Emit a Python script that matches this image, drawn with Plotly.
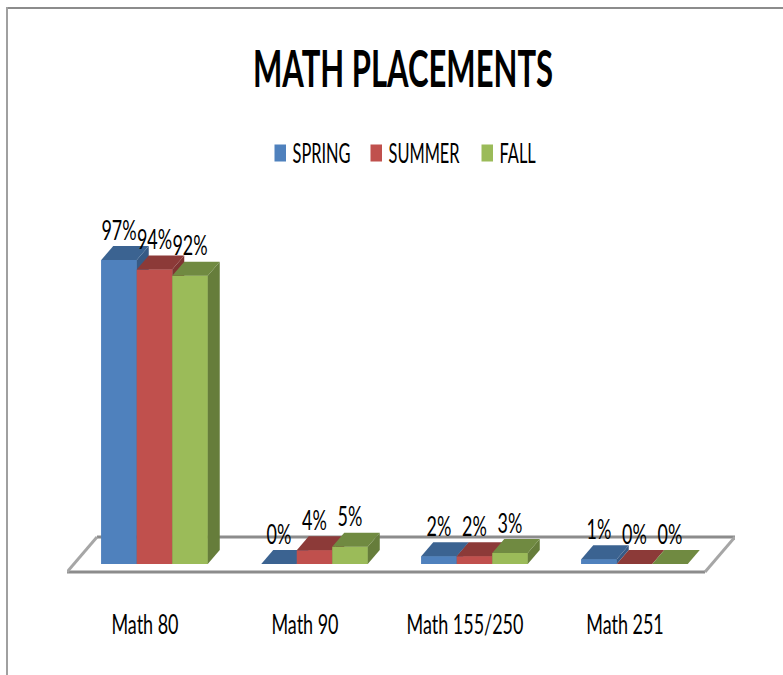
import plotly.graph_objects as go

WIDTH, HEIGHT = 783, 675
FONT = "Lato, Liberation Sans, sans-serif"

categories = ["Math 80", "Math 90", "Math 155/250", "Math 251"]
series_names = ["SPRING", "SUMMER", "FALL"]
spring = [97, 0, 2.49, 1.49]
summer = [94, 4.4, 2.49, 0]
fall = [92, 5.49, 3.49, 0]

front_colors = ["#4f81bd", "#c0504d", "#9bbb59"]
top_colors = ["#3b6391", "#8c3a38", "#708a41"]
side_colors = ["#375a85", "#7f3432", "#667d3b"]

# plot area in page pixels, the axes do the rest of the mapping
PLOT_L, PLOT_R, PLOT_T, PLOT_B = 67, 735, 200, 607
PX_X = 160.0   # pixels per category
PX_Y = 3.134   # pixels per percent
X0_PX, Y0_PX = 145, 564  # where x=0 and y=0 land

xrange_ = [(PLOT_L - X0_PX) / PX_X, (PLOT_R - X0_PX) / PX_X]
yrange_ = [(Y0_PX - PLOT_B) / PX_Y, (Y0_PX - PLOT_T) / PX_Y]

bar_w = 35.5 / PX_X
group_shift = 9.5 / PX_X  # bars sit a little right of the category label
depth_x = 12 / PX_X
depth_y = 14 / PX_Y
legend_left = [274.5, 370.5, 481.5]  # page px where each legend box starts


def px_to_paper_x(px):
    return (px - PLOT_L) / (PLOT_R - PLOT_L)


def px_to_paper_y(px):
    return (PLOT_B - px) / (PLOT_B - PLOT_T)


fig = go.Figure()

# flat bars first, they carry the legend
all_values = [spring, summer, fall]
legend_ids = ["legend", "legend2", "legend3"]
for s, values in enumerate(all_values):
    xs = [i + group_shift + (s - 1) * bar_w for i in range(len(categories))]
    fig.add_trace(go.Bar(x=xs, y=values, width=bar_w, name=series_names[s],
                         legend=legend_ids[s],
                         marker=dict(color=front_colors[s], line_width=0)))


def polygon(xs, ys, color):
    fig.add_trace(go.Scatter(x=xs, y=ys, mode="lines", fill="toself", fillcolor=color,
                             line=dict(width=0, color=color), showlegend=False,
                             hoverinfo="skip"))


# 3D faces, painted left to right so neighbours cover each other
labels_x, labels_y, labels_text = [], [], []
for i in range(len(categories)):
    for s, values in enumerate(all_values):
        v = values[i]
        x0 = i + group_shift + (s - 1.5) * bar_w
        x1 = x0 + bar_w
        polygon([x0, x1, x1, x0, x0], [0, 0, v, v, 0], front_colors[s])
        polygon([x1, x1 + depth_x, x1 + depth_x, x1, x1],
                [0, depth_y, v + depth_y, v, 0], side_colors[s])
        polygon([x0, x1, x1 + depth_x, x0 + depth_x, x0],
                [v, v, v + depth_y, v + depth_y, v], top_colors[s])
        labels_x.append((x0 + x1) / 2)
        labels_y.append(v + depth_y)
        labels_text.append(f"{v:.0f}%")

fig.add_trace(go.Scatter(x=labels_x, y=labels_y, mode="text", text=labels_text,
                         textposition="top center", showlegend=False, hoverinfo="skip",
                         cliponaxis=False,
                         textfont=dict(family=FONT, size=26, color="#000000")))

# floor of the chart, in axis units
floor_front = (Y0_PX - 572) / PX_Y
floor_back = (Y0_PX - 537) / PX_Y
fl = (67 - X0_PX) / PX_X
fr = (705 - X0_PX) / PX_X
bl = (97 - X0_PX) / PX_X
br = (735 - X0_PX) / PX_X
gray = "#8c8c8c"
floor_lines = [
    (fl, floor_front, fr, floor_front, gray),
    (bl, floor_back, br, floor_back, gray),
    (fl, floor_front, bl, floor_back, "#a6a6a6"),
    (fr, floor_front, br, floor_back, "#a6a6a6"),
]
shapes = [dict(type="line", x0=a, y0=b, x1=c, y1=d, layer="below",
               line=dict(color=col, width=3)) for a, b, c, d, col in floor_lines]

# picture frame, only top and left are there
shapes.append(dict(type="line", xref="paper", yref="paper",
                   x0=px_to_paper_x(7), y0=px_to_paper_y(8),
                   x1=px_to_paper_x(783), y1=px_to_paper_y(8),
                   line=dict(color=gray, width=2)))
shapes.append(dict(type="line", xref="paper", yref="paper",
                   x0=px_to_paper_x(7), y0=px_to_paper_y(7),
                   x1=px_to_paper_x(7), y1=px_to_paper_y(675),
                   line=dict(color="#a0a0a0", width=2)))

legends = {}
for lid, left in zip(legend_ids, legend_left):
    legends[lid] = dict(orientation="h", x=px_to_paper_x(left), xanchor="left",
                        y=px_to_paper_y(153), yanchor="middle", indentation=-15,
                        font=dict(family=FONT, size=26, color="#000000"),
                        bgcolor="rgba(0,0,0,0)")

fig.update_layout(
    width=WIDTH,
    height=HEIGHT,
    margin=dict(l=PLOT_L, r=WIDTH - PLOT_R, t=PLOT_T, b=HEIGHT - PLOT_B, pad=0),
    paper_bgcolor="white",
    plot_bgcolor="rgba(0,0,0,0)",
    barmode="overlay",
    shapes=shapes,
    title=dict(text="MATH PLACEMENTS", x=403 / WIDTH, xanchor="center",
               y=1 - 69 / HEIGHT, yanchor="middle",
               font=dict(family=FONT, size=52, color="#000000", weight="bold")),
    xaxis=dict(range=xrange_, tickmode="array", tickvals=list(range(len(categories))),
               ticktext=categories, showgrid=False, zeroline=False, showline=False,
               ticks="", tickfont=dict(family=FONT, size=26, color="#000000")),
    yaxis=dict(range=yrange_, visible=False, showgrid=False, zeroline=False),
    **legends,
)

# the original is a squeezed picture, so the glyphs are condensed after drawing
squeeze_js = """
var gd = document.getElementById('{plot_id}');
function squeeze() {
  document.body.style.margin = '0';
  gd.querySelectorAll('text').forEach(function (t) {
    t.removeAttribute('textLength');
    var w = t.getComputedTextLength();
    var f = 0.69;
    if (t.classList.contains('gtitle')) { f = 300 / w; }
    if (/legend\\d*text/.test(t.getAttribute('class') || '')) {
      f = 0.63;
      t.setAttribute('x', 18);
    }
    t.setAttribute('lengthAdjust', 'spacingAndGlyphs');
    t.setAttribute('textLength', w * f);
  });
  gd.querySelectorAll('.legendpoints path').forEach(function (p) {
    p.setAttribute('d', 'M6.5,8.5h-13v-17h13z');
  });
}
squeeze();
gd.on('plotly_afterplot', squeeze);
"""

fig.write_html("out.html", post_script=squeeze_js, config={"displayModeBar": False})
